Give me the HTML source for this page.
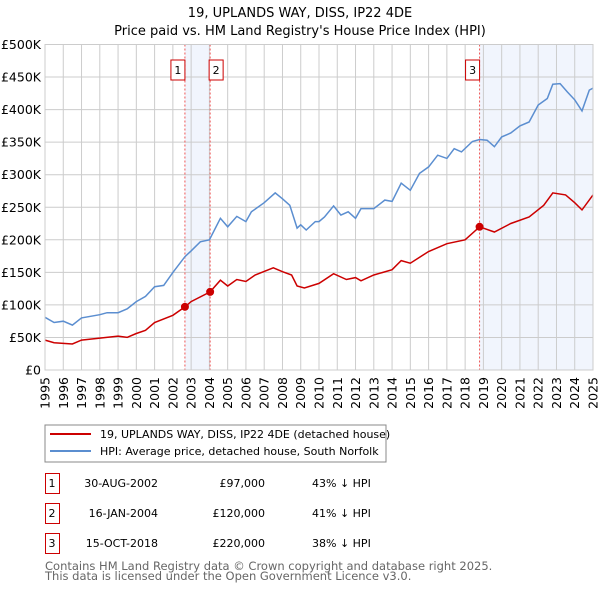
<!DOCTYPE html>
<html><head><meta charset="utf-8"><style>
body{margin:0;background:#fff;font-family:"DejaVu Sans","Liberation Sans",sans-serif;}
svg text{font-family:"DejaVu Sans","Liberation Sans",sans-serif;}
</style></head><body>
<svg id="c" width="600" height="590" viewBox="0 0 600 590" xmlns="http://www.w3.org/2000/svg">
<text x="300" y="17" text-anchor="middle" font-size="13">19, UPLANDS WAY, DISS, IP22 4DE</text>
<text x="300" y="35" text-anchor="middle" font-size="13">Price paid vs. HM Land Registry's House Price Index (HPI)</text>
<g id="plot"></g>
<g>
<rect x="45" y="425" width="341" height="37" fill="#fff" stroke="#888"/>
<line x1="50" y1="434" x2="91" y2="434" stroke="#cc0000" stroke-width="2"/>
<text x="100" y="438" font-size="11">19, UPLANDS WAY, DISS, IP22 4DE (detached house)</text>
<line x1="50" y1="451" x2="91" y2="451" stroke="#5b8ed0" stroke-width="2"/>
<text x="100" y="455" font-size="11">HPI: Average price, detached house, South Norfolk</text>
</g>
<g id="tbl" font-size="11"></g>
<text x="45" y="570" font-size="11.5" fill="#666">Contains HM Land Registry data © Crown copyright and database right 2025.</text>
<text x="45" y="580" font-size="11.5" fill="#666">This data is licensed under the Open Government Licence v3.0.</text>
</svg>
<script>
const hpiYears=[1995,1995.5,1996,1996.5,1997,1998,1998.4,1999,1999.5,2000,2000.5,2001,2001.5,2002,2002.66,2003,2003.5,2004,2004.6,2005,2005.5,2006,2006.3,2007,2007.6,2008,2008.4,2008.8,2009,2009.3,2009.8,2010,2010.3,2010.8,2011.2,2011.6,2012,2012.3,2013,2013.6,2014,2014.5,2015,2015.5,2016,2016.5,2017,2017.4,2017.8,2018.4,2018.79,2019.2,2019.6,2020,2020.5,2021,2021.5,2022,2022.5,2022.8,2023.2,2023.6,2024,2024.4,2024.8,2025];
const hpiValues=[81,73,75,69,80,85,88,88,94,105,113,128,130,150,174,183,197,200,233,220,236,228,243,257,272,263,253,218,223,215,228,228,235,252,238,243,233,248,248,261,259,287,276,302,312,330,325,340,335,351,354,353,343,358,364,375,381,407,417,439,440,427,415,398,430,433];
const priceYears=[1995,1995.5,1996.5,1997,1998,1999,1999.5,2000,2000.5,2001,2002,2002.66,2003,2004.04,2004.6,2005,2005.5,2006,2006.5,2007.5,2008,2008.5,2008.8,2009.2,2010,2010.8,2011.5,2012,2012.3,2013,2014,2014.5,2015,2016,2017,2018,2018.79,2019.6,2020.5,2021.5,2022.3,2022.8,2023.5,2024,2024.4,2025];
const priceValues=[46,42,40,46,49,52,50,56,61,73,84,97,105,120,138,129,139,136,146,157,151,146,129,126,133,148,139,142,137,146,154,168,164,182,194,200,220,212,225,235,253,272,269,257,246,269];
const saleLabels=["1","2","3"];
const saleYears=[2002.66,2004.04,2018.79];
const salePrices=[97,120,220];
const saleDates=["30-AUG-2002","16-JAN-2004","15-OCT-2018"];
const salePriceText=["£97,000","£120,000","£220,000"];
const saleHpiText=["43% ↓ HPI","41% ↓ HPI","38% ↓ HPI"];
const yTicks=[0,50,100,150,200,250,300,350,400,450,500];
const yTickLabels=["£0","£50K","£100K","£150K","£200K","£250K","£300K","£350K","£400K","£450K","£500K"];
const xTicks=[1995,1996,1997,1998,1999,2000,2001,2002,2003,2004,2005,2006,2007,2008,2009,2010,2011,2012,2013,2014,2015,2016,2017,2018,2019,2020,2021,2022,2023,2024,2025];

const NS="http://www.w3.org/2000/svg";
const X0=45,X1=593,Y0=370,Y1=44.5;
const xs=y=>X0+(y-1995)/30*(X1-X0);
const ys=v=>Y0-v/500*(Y0-Y1);
const plot=document.getElementById('plot');
function mk(tag,attrs,parent){const e=document.createElementNS(NS,tag);for(const k in attrs)e.setAttribute(k,attrs[k]);(parent||plot).appendChild(e);return e;}
let e;
e=mk('rect',{x:xs(saleYears[0]),y:Y1,width:xs(saleYears[1])-xs(saleYears[0]),height:Y0-Y1,fill:'#eef3fc',opacity:0.8});


e=mk('rect',{x:xs(saleYears[2]),y:Y1,width:X1-xs(saleYears[2]),height:Y0-Y1,fill:'#eef3fc',opacity:0.8});


yTicks.forEach((t,i)=>{
 e=mk('line',{x1:X0,x2:X1,y1:ys(t),y2:ys(t),stroke:'#ccc','stroke-width':1});
 
 
 e=mk('text',{x:X0-4,y:ys(t)+4.5,'text-anchor':'end','font-size':12.5});
 e.textContent=yTickLabels[i];
 
 
});
xTicks.forEach(t=>{
 e=mk('line',{x1:xs(t),x2:xs(t),y1:Y1,y2:Y0,stroke:'#ccc','stroke-width':1});
 
 
 const tx=xs(t)+4.5, ty=Y0+7;
 e=mk('text',{x:tx,y:ty,'text-anchor':'end','font-size':12.5,transform:'rotate(-90 '+tx+' '+ty+')'});
 e.textContent=t;
 
 
});
saleYears.forEach((y,i)=>{
 e=mk('line',{x1:xs(y),x2:xs(y),y1:Y1,y2:Y0,stroke:'#e55','stroke-width':1,'stroke-dasharray':'2,2'});
 
 
});
function path(xv,yv,color,name){
 const d=xv.map((x,i)=>(i?'L':'M')+xs(x).toFixed(1)+','+ys(yv[i]).toFixed(1)).join('');
 e=mk('path',{d:d,fill:'none',stroke:color,'stroke-width':1.5});
 
 
}
path(hpiYears,hpiValues,'#5b8ed0','hpi-line');
path(priceYears,priceValues,'#cc0000','price-line');
saleYears.forEach((y,i)=>{
 e=mk('circle',{cx:xs(y),cy:ys(salePrices[i]),r:4,fill:'#cc0000'});
 
 
});
const boxOff=[-7,6,-7];
saleYears.forEach((y,i)=>{
 const bx=xs(y)+boxOff[i]-7;
 e=mk('rect',{x:bx,y:60,width:14,height:20,fill:'#fff',stroke:'#cc0000','stroke-width':1});
 
 
 e=mk('text',{x:bx+7,y:74,'text-anchor':'middle','font-size':11});
 e.textContent=saleLabels[i];
 
 
});
e=mk('rect',{x:X0,y:Y1,width:X1-X0,height:Y0-Y1,fill:'none',stroke:'#ccc'});


const tbl=document.getElementById('tbl');
saleLabels.forEach((l,i)=>{
 const cy=483+i*30;
 e=mk('rect',{x:45.5,y:cy-9.5,width:14,height:20,fill:'#fff',stroke:'#cc0000'},tbl);
 
 
 e=mk('text',{x:52,y:cy+4,'text-anchor':'middle'},tbl);e.textContent=l;
 
 
 e=mk('text',{x:158,y:cy+4,'text-anchor':'end'},tbl);e.textContent=saleDates[i];
 
 
 e=mk('text',{x:265,y:cy+4,'text-anchor':'end'},tbl);e.textContent=salePriceText[i];
 
 
 e=mk('text',{x:312,y:cy+4},tbl);e.textContent=saleHpiText[i];
 
 
});
</script>
</body></html>
